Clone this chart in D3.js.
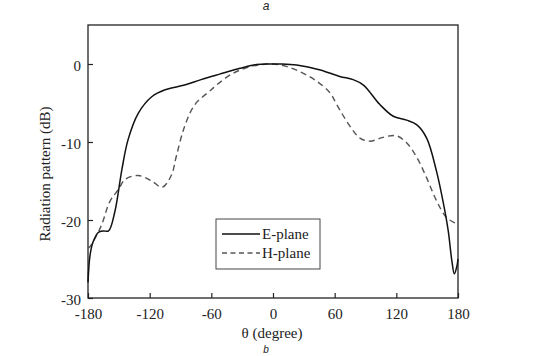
<!DOCTYPE html>
<html><head><meta charset="utf-8">
<script src="https://cdn.jsdelivr.net/npm/d3@7"></script>
<style>body{margin:0;background:#fff}svg{display:block}</style>
</head><body>
<svg id="c" width="553" height="356"></svg>
<script>
const xTicks = [-180, -120, -60, 0, 60, 120, 180];
const yTicks = [-30, -20, -10, 0];
const eTheta = [-180,-178,-175,-170,-165,-160,-154,-147,-141,-131,-118,-105,-86,-70,-52,-32,-16,0,7,23,46,65,78,88,104,117,130,140,149.5,159,166,170.5,174,176.4,178.8,180];
const eDb =    [-28,-24.5,-22.8,-21.6,-21.4,-21.4,-19,-13.5,-9.7,-6.3,-4.2,-3.3,-2.7,-2.0,-1.3,-0.55,-0.05,0,0,-0.13,-0.76,-1.6,-2.0,-2.7,-5.2,-6.7,-7.2,-7.8,-9.5,-13.7,-18,-21.4,-25.2,-26.9,-26,-25];
const hTheta = [-180,-178,-167,-159,-150,-144,-131,-118,-108,-99,-94,-86,-76,-60,-55,-39,-22,-6,0,13,29.5,42.5,55.5,62,75,84.6,94.4,107,120,130,140,149.5,159,169,178.8,180];
const hDb =    [-23.6,-23.4,-20.7,-17.7,-16,-14.8,-14.3,-15,-15.8,-14.3,-11.8,-8,-5.2,-3.3,-2.7,-1.2,-0.34,0,0,-0.3,-1.2,-2.2,-3.7,-5.2,-8,-9.5,-9.9,-9.4,-9.2,-10.1,-12,-14.6,-17.5,-19.7,-20.5,-20.6];
const seriesNames = ["E-plane", "H-plane"];

const svg = d3.select("#c");
const L = 88, R = 458, T = 25, B = 298;
const x = d3.scaleLinear().domain([-180, 180]).range([L, R]);
const y = d3.scaleLinear().domain([-30, 5]).range([B, T]);
const font = "'Liberation Serif','Times New Roman',serif";
const fmt = d => String(d);

// plot frame
svg.append("rect").attr("x", L).attr("y", T).attr("width", R - L).attr("height", B - T)
  .attr("fill", "none").attr("stroke", "#222").attr("stroke-width", 1.3);

const xAxis = svg.append("g").attr("transform", `translate(0,${B})`)
  .call(d3.axisBottom(x).tickValues(xTicks).tickSizeInner(-5).tickSizeOuter(0).tickPadding(10).tickFormat(fmt));
const yAxis = svg.append("g").attr("transform", `translate(${L},0)`)
  .call(d3.axisLeft(y).tickValues(yTicks).tickSizeInner(-5).tickSizeOuter(0).tickPadding(7).tickFormat(fmt));
[xAxis, yAxis].forEach(g => {
  g.select(".domain").remove();
  g.selectAll("line").attr("stroke", "#222").attr("stroke-width", 1.2);
  g.selectAll("text").attr("font-family", font).attr("font-size", 15).attr("fill", "#222");
});
xAxis.selectAll("text").attr("dy", "0.71em");
yAxis.selectAll("text").attr("dy", "0.4em");

const line = d3.line().x(d => x(d[0])).y(d => y(d[1])).curve(d3.curveCatmullRom.alpha(0.5));
const eData = eTheta.map((t, i) => [t, eDb[i]]);
const hData = hTheta.map((t, i) => [t, hDb[i]]);

svg.append("path").datum(hData).attr("d", line).attr("fill", "none")
  .attr("stroke", "#555").attr("stroke-width", 1.4).attr("stroke-dasharray", "6,4");
svg.append("path").datum(eData).attr("d", line).attr("fill", "none")
  .attr("stroke", "#111").attr("stroke-width", 1.5);

// legend
const lg = svg.append("g");
lg.append("rect").attr("x", 216).attr("y", 219).attr("width", 104).attr("height", 50)
  .attr("fill", "#fff").attr("stroke", "#444").attr("stroke-width", 1);
const styles = [{c:"#111", d:null}, {c:"#555", d:"5,3.5"}];
seriesNames.forEach((n, i) => {
  const yy = 234 + i * 19;
  lg.append("line").attr("x1", 222).attr("x2", 260).attr("y1", yy).attr("y2", yy)
    .attr("stroke", styles[i].c).attr("stroke-width", 1.4).attr("stroke-dasharray", styles[i].d);
  lg.append("text").attr("x", 262).attr("y", yy + 5).text(n)
    .attr("font-family", font).attr("font-size", 15).attr("fill", "#222");
});

// axis titles
svg.append("text").attr("x", (L + R) / 2 - 1).attr("y", 338).attr("text-anchor", "middle")
  .attr("font-family", font).attr("font-size", 15).attr("fill", "#222").text("θ (degree)");
svg.append("text").attr("transform", "translate(50,174) rotate(-90)").attr("text-anchor", "middle")
  .attr("font-family", font).attr("font-size", 15).attr("fill", "#222").text("Radiation pattern (dB)");

// panel letters
svg.append("text").attr("x", 266).attr("y", 10).attr("text-anchor", "middle")
  .attr("font-family", "'Liberation Sans',Arial,sans-serif").attr("font-style", "italic")
  .attr("font-size", 12).attr("fill", "#222").text("a");
svg.append("text").attr("x", 266).attr("y", 353).attr("text-anchor", "middle")
  .attr("font-family", "'Liberation Sans',Arial,sans-serif").attr("font-style", "italic")
  .attr("font-size", 10).attr("fill", "#222").text("b");
</script>
</body></html>
